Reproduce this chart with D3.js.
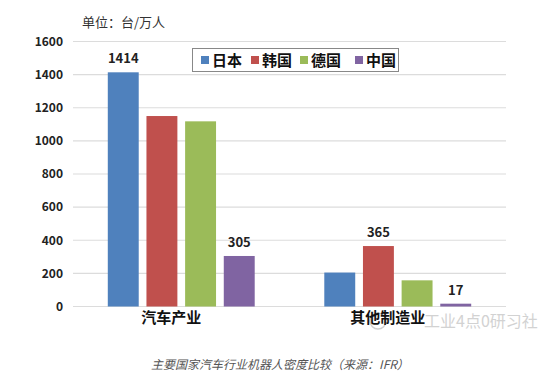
<!DOCTYPE html>
<html>
<head>
<meta charset="utf-8">
<script src="https://d3js.org/d3.v7.min.js"></script>
<style>
body { margin: 0; background: #fff; }
text { font-family: "Noto Sans CJK SC", "Noto Sans", sans-serif; }
</style>
</head>
<body>
<svg width="554" height="377"></svg>
<script>
// data
var categories = ["汽车产业", "其他制造业"];
var countries = ["日本", "韩国", "德国", "中国"];
var japan = [1414, 205];
var korea = [1150, 365];
var germany = [1118, 158];
var china = [305, 17];
var yTicks = [0, 200, 400, 600, 800, 1000, 1200, 1400, 1600];
// only these values are printed above the bars
var shownLabels = [[true, false, false, true], [false, true, false, true]];

var series = [japan, korea, germany, china];
var colors = d3.scaleOrdinal().domain(countries)
    .range(["#4F81BD", "#C0504D", "#9BBB59", "#8064A2"]);

var svg = d3.select("svg");

var x0 = d3.scaleBand().domain(categories).range([73, 506]);
var x1 = d3.scaleBand().domain(countries).range([0, x0.bandwidth()])
    .paddingInner(0.2).paddingOuter(0.9);
var y = d3.scaleLinear().domain([0, 1600]).range([306.5, 41.5]);

// gridlines
svg.append("g").selectAll("line")
    .data(yTicks)
    .enter().append("line")
    .attr("x1", 73).attr("x2", 506)
    .attr("y1", function(d) { return y(d); })
    .attr("y2", function(d) { return y(d); })
    .style("stroke", "#dcdcdc")
    .style("stroke-width", 1.2);

// y axis labels
var yAxis = svg.append("g")
    .attr("transform", "translate(73,0)")
    .call(d3.axisLeft(y).tickValues(yTicks).tickFormat(d3.format("d"))
        .tickSize(0).tickPadding(10));
yAxis.select(".domain").remove();
yAxis.selectAll("text")
    .style("font-size", "12px")
    .style("font-weight", "bold")
    .style("fill", "#222");

// unit
svg.append("text")
    .attr("x", 82).attr("y", 27)
    .style("font-size", "13px")
    .style("fill", "#333")
    .text("单位：台/万人");

// watermark (kept clear of the category label)
svg.append("circle")
    .attr("cx", 378).attr("cy", 321).attr("r", 8)
    .style("fill", "none").style("stroke", "#d0d0d0").style("stroke-width", 1.5);
svg.append("text")
    .attr("x", 424).attr("y", 327)
    .style("font-size", "16px")
    .style("fill", "#d2d2d2")
    .text("工业4点0研习社");

// bars
var rows = [];
categories.forEach(function(c, ci) {
  countries.forEach(function(k, ki) {
    rows.push({cat: c, country: k, value: series[ki][ci], show: shownLabels[ci][ki]});
  });
});

svg.append("g").selectAll("rect")
    .data(rows)
    .enter().append("rect")
    .attr("x", function(d) { return x0(d.cat) + x1(d.country); })
    .attr("y", function(d) { return y(d.value); })
    .attr("width", x1.bandwidth())
    .attr("height", function(d) { return y(0) - y(d.value); })
    .style("fill", function(d) { return colors(d.country); });

svg.append("g").selectAll("text")
    .data(rows.filter(function(d) { return d.show; }))
    .enter().append("text")
    .attr("x", function(d) { return x0(d.cat) + x1(d.country) + x1.bandwidth() / 2; })
    .attr("y", function(d) { return y(d.value) - 9; })
    .attr("text-anchor", "middle")
    .style("font-size", "13px")
    .style("font-weight", "bold")
    .style("fill", "#222")
    .text(function(d) { return d.value; });

// category labels
svg.append("g").selectAll("text")
    .data(categories)
    .enter().append("text")
    .attr("x", function(d) { return x0(d) + x0.bandwidth() / 2 - 10; })
    .attr("y", 323)
    .attr("text-anchor", "middle")
    .style("font-size", "15px")
    .style("font-weight", "bold")
    .style("fill", "#111")
    .text(function(d) { return d; });

// legend
var lg = svg.append("g");
lg.append("rect")
    .attr("x", 192.5).attr("y", 48.5).attr("width", 206).attr("height", 23)
    .style("fill", "#fff").style("stroke", "#888");
var legX = [201, 251, 300, 355];
var item = lg.selectAll("g.item")
    .data(countries)
    .enter().append("g")
    .attr("class", "item")
    .attr("transform", function(d, i) { return "translate(" + legX[i] + ",60)"; });
item.append("rect")
    .attr("x", 0).attr("y", -4).attr("width", 8).attr("height", 8)
    .style("fill", function(d) { return colors(d); });
item.append("text")
    .attr("x", 11).attr("y", 5.5)
    .style("font-size", "15px")
    .style("font-weight", "bold")
    .style("fill", "#111")
    .text(function(d) { return d; });

// caption
svg.append("text")
    .attr("x", 280).attr("y", 369)
    .attr("text-anchor", "middle")
    .style("font-size", "12px")
    .style("font-style", "italic")
    .style("fill", "#555")
    .text("主要国家汽车行业机器人密度比较（来源：IFR）");
</script>
</body>
</html>
